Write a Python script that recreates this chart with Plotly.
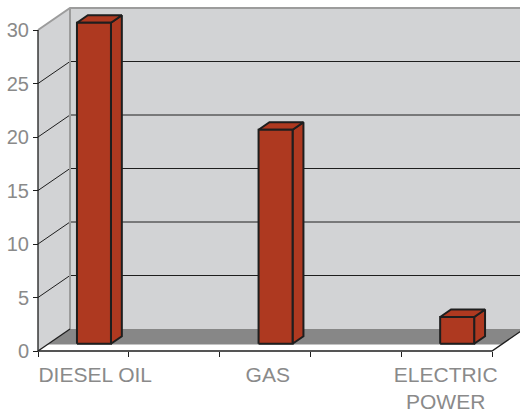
import plotly.graph_objects as go

# ---- data ----
categories = ["DIESEL OIL", "GAS", "ELECTRIC<br>POWER"]
values = [30, 20, 2.5]
y_tickvals = [0, 5, 10, 15, 20, 25, 30]
slot_edges = [0, 1, 2, 3, 4, 5]
label_pos = [0.63, 2.53, 4.49]

# ---- style ----
BAR = "#AE3920"
WALL = "#D2D3D5"
FLOOR = "#878787"
EDGE = "#9C9C9C"
DARK = "#1E1E1E"
TXT = "#8A8A8A"
FONT = "Liberation Sans, Arial, Helvetica, sans-serif"

PX_X = 90.8   # px per category slot
PX_Y = 10.7   # px per value unit
DX = 32 / PX_X
DY = 22 / PX_Y
YMAX = max(y_tickvals)
N_SLOTS = slot_edges[-1]


def P(x, v, d):
    return x + d * DX, v + d * DY


def poly(points, fill, line_color=None, width=0):
    xs = [p[0] for p in points] + [points[0][0]]
    ys = [p[1] for p in points] + [points[0][1]]
    return go.Scatter(x=xs, y=ys, mode="lines", fill="toself", fillcolor=fill,
                      line=dict(color=line_color or fill, width=width),
                      hoverinfo="skip", showlegend=False)


def path(points, color, width):
    xs = [p[0] if p is not None else None for p in points]
    ys = [p[1] if p is not None else None for p in points]
    return go.Scatter(x=xs, y=ys, mode="lines", line=dict(color=color, width=width),
                      hoverinfo="skip", showlegend=False)


fig = go.Figure()
XR = N_SLOTS + 1.5
# back wall
fig.add_trace(poly([P(0, 0, 1), P(XR, 0, 1), P(XR, YMAX, 1), P(0, YMAX, 1)], WALL))
# left wall
fig.add_trace(poly([P(0, 0, 0), P(0, 0, 1), P(0, YMAX, 1), P(0, YMAX, 0)], WALL))
# floor
fig.add_trace(poly([P(0, 0, 0.3), P(N_SLOTS, 0, 0.3), P(N_SLOTS, 0, 1), P(0, 0, 1)], FLOOR))
# gridlines
g = []
for v in y_tickvals[1:-1]:
    g += [P(0, v, 0), P(0, v, 1), P(XR, v, 1), None]
fig.add_trace(path(g, DARK, 1))
# wall edges
fig.add_trace(path([P(0, 0, 1), P(0, YMAX, 1), None,
                    P(0, YMAX, 0), P(0, YMAX, 1), P(XR, YMAX, 1)], EDGE, 2))
# axis lines
fig.add_trace(path([P(0, YMAX, 0), P(0, 0, 0), P(N_SLOTS, 0, 0), P(N_SLOTS, 0, 1), None,
                    P(0, 0, 0), P(0, 0, 1)], DARK, 1.3))

# bars
w = 34 / PX_X
d0, d1 = 0.33, 0.67
for i, v in enumerate(values):
    c = 2 * i + 0.5
    l, r = c - w / 2, c + w / 2
    fig.add_trace(poly([P(r, 0, d0), P(r, 0, d1), P(r, v, d1), P(r, v, d0)], BAR, DARK, 2))
    fig.add_trace(poly([P(l, v, d0), P(r, v, d0), P(r, v, d1), P(l, v, d1)], BAR, DARK, 2))
    fig.add_trace(poly([P(l, 0, d0), P(r, 0, d0), P(r, v, d0), P(l, v, d0)], BAR, DARK, 2))

# axes geometry
W, H = 520, 412
ML, MB = 32, 54
plot_w, plot_h = W - ML, H - MB
xlo = -(38 - ML) / PX_X
xhi = xlo + plot_w / PX_X
ylo = -(plot_h - 351) / PX_Y
yhi = ylo + plot_h / PX_Y

fig.update_layout(
    width=W, height=H,
    margin=dict(l=ML, r=0, t=0, b=MB),
    paper_bgcolor="white", plot_bgcolor="white",
    font=dict(family=FONT, color=TXT),
    xaxis=dict(range=[xlo, xhi], anchor="free", position=(plot_h - 351) / plot_h,
               automargin=False, ticklabelstandoff=9,
               tickmode="array", tickvals=label_pos, ticktext=categories, ticks="",
               tickfont=dict(size=21, color=TXT), showgrid=False, zeroline=False,
               showline=False,
               minor=dict(tickmode="array", tickvals=slot_edges, ticks="outside",
                          ticklen=5, tickcolor=DARK, tickwidth=1.3, showgrid=False)),
    yaxis=dict(range=[ylo, yhi], anchor="free", position=(38 - ML) / plot_w,
               automargin=False,
               tickmode="array", tickvals=y_tickvals, ticks="outside", ticklen=5,
               tickcolor=DARK, tickwidth=1.3, tickfont=dict(size=20, color=TXT),
               showgrid=False, zeroline=False, showline=False),
)

fig.write_html("out.html", config={"displayModeBar": False},
               post_script="document.body.style.margin='0';document.body.style.overflow='hidden';")
